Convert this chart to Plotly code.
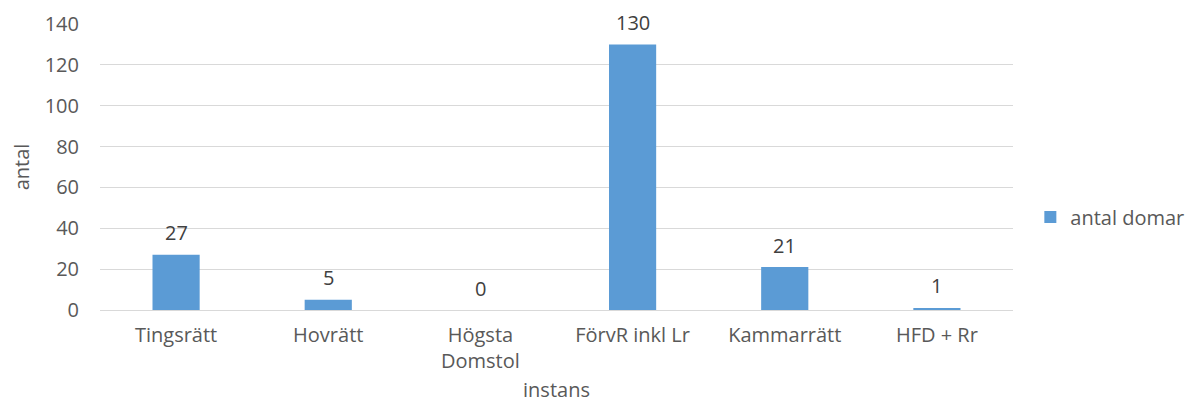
import plotly.graph_objects as go

categories = ["Tingsrätt", "Hovrätt", "Högsta<br>Domstol", "FörvR inkl Lr", "Kammarrätt", "HFD + Rr"]
values = [27, 5, 0, 130, 21, 1]
series_name = "antal domar"
y_ticks = [0, 20, 40, 60, 80, 100, 120, 140]

FONT = "Open Sans, Noto Sans, sans-serif"
GREY = "#595959"
FS = 20

fig = go.Figure()
fig.add_trace(go.Bar(
    x=categories, y=values, name=series_name,
    marker=dict(color="#5B9BD5", line=dict(width=0)),
    width=0.31,
))

for c, v in zip(categories, values):
    fig.add_annotation(
        x=c, y=v, text=str(v), showarrow=False,
        yanchor="middle", yshift=22,
        font=dict(family=FONT, size=FS, color="#404040"),
    )

# page body has an 8px default margin, so the figure is sized 8px smaller
fig.update_layout(
    width=1188, height=395,
    margin=dict(l=92, r=183, t=16, b=93, autoexpand=False),
    paper_bgcolor="white", plot_bgcolor="white",
    font=dict(family=FONT, size=FS, color=GREY),
    showlegend=True,
    legend=dict(x=1.019, y=0.325, xanchor="left", yanchor="middle",
                font=dict(family=FONT, size=FS, color=GREY),
                itemwidth=30, bgcolor="rgba(0,0,0,0)"),
)
fig.update_xaxes(
    showgrid=False, showline=False, ticks="", automargin=True,
    tickfont=dict(family=FONT, size=FS, color=GREY), ticklabelstandoff=11,
    title=dict(text="instans", font=dict(family=FONT, size=FS, color=GREY), standoff=14),
)
fig.update_yaxes(
    range=[0, 140], tickvals=y_ticks, showgrid=True, gridcolor="#D9D9D9", gridwidth=1,
    zeroline=True, zerolinecolor="#D9D9D9", zerolinewidth=1, showline=False,
    automargin=True,
    tickfont=dict(family=FONT, size=FS, color=GREY), ticklabelstandoff=20,
    title=dict(text="antal", font=dict(family=FONT, size=FS, color=GREY), standoff=15),
)

fig.write_html("out.html")
